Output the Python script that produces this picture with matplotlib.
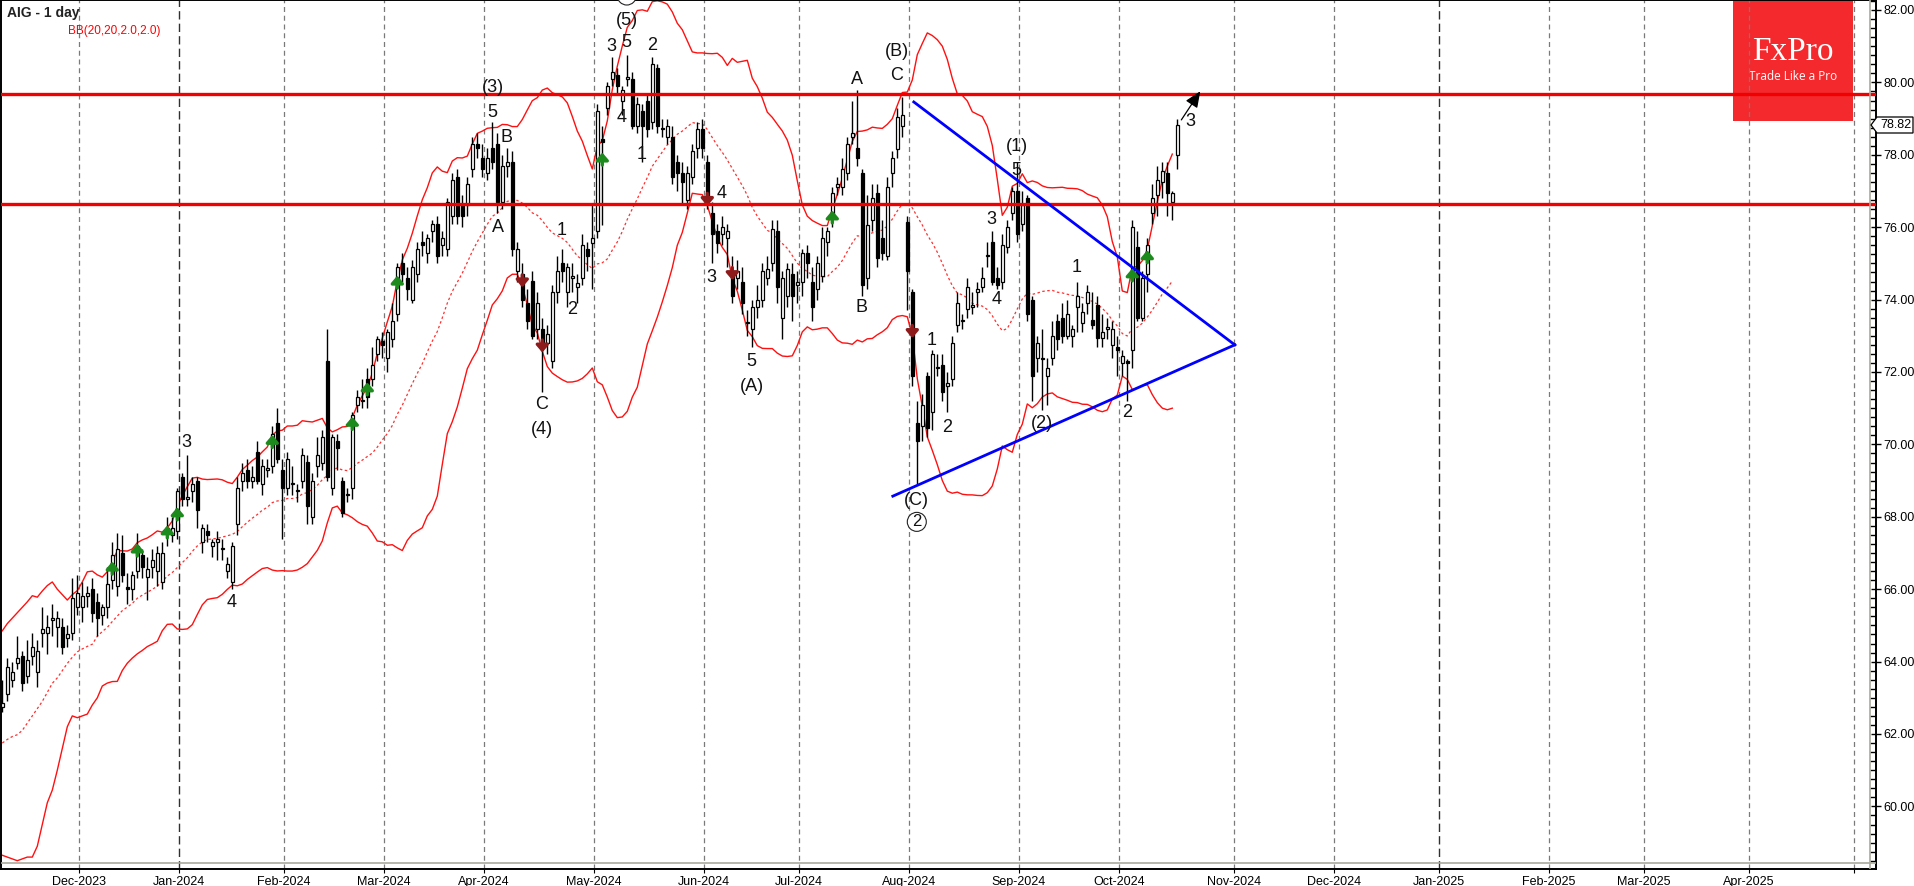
import numpy as np
import pandas as pd
import matplotlib
matplotlib.use("Agg")
import matplotlib.pyplot as plt
from matplotlib.patches import Rectangle, Polygon

plt.rcParams['font.family'] = ['Liberation Sans', 'DejaVu Sans']

# ---------------- data ----------------
start_date = "2023-11-09"
holidays = ["2023-11-23", "2023-12-25", "2024-01-01", "2024-01-15", "2024-02-19",
            "2024-03-29", "2024-05-27", "2024-06-19", "2024-07-04", "2024-09-02",
            "2024-11-28", "2024-12-25", "2025-01-01", "2025-02-17", "2025-04-18"]

opens = [62.75, 63.1, 63.5, 63.95, 64.15, 63.6, 64.15, 63.7, 64.8, 64.8,
         65.15, 64.95, 64.95, 64.65, 64.8, 65.5, 65.5, 65.8, 66.0, 65.65,
         65.3, 65.5, 66.25, 66.1, 67.0, 66.05, 66.0, 66.5, 66.95, 66.35,
         66.6, 66.5, 66.2, 67.55, 67.5, 67.6, 69.1, 68.5, 68.7, 69.0,
         67.3, 67.6, 67.2, 67.3, 67.1, 66.5, 66.2, 67.8, 69.0, 69.3,
         69.0, 69.8, 68.9, 69.3, 69.4, 70.6, 69.3, 68.8, 68.9, 68.7,
         69.0, 69.5, 68.0, 69.4, 69.5, 72.3, 68.8, 70.1, 69.0, 68.6,
         68.8, 71.1, 71.2, 71.8, 71.8, 72.5, 72.85, 72.4, 72.9, 73.6,
         75.0, 74.6, 74.0, 74.7, 75.6, 75.3, 75.9, 76.1, 75.5, 75.4,
         76.3, 77.4, 76.6, 76.6, 77.6, 78.3, 77.9, 77.5, 78.2, 78.3,
         76.7, 77.7, 77.8, 74.8, 74.7, 73.9, 74.5, 73.2, 73.2, 72.8,
         72.3, 74.2, 75.0, 74.2, 74.6, 74.35, 74.6, 75.4, 75.55, 75.9,
         78.45, 79.3, 80.1, 80.2, 79.5, 80.1, 80.1, 78.8, 79.2, 79.5,
         78.9, 80.4, 78.75, 78.5, 78.5, 77.8, 77.5, 76.75, 77.4, 78.2,
         78.7, 77.8, 76.4, 75.9, 75.8, 75.7, 74.8, 74.6, 74.5, 73.35,
         73.2, 73.8, 74.0, 74.6, 75.0, 75.9, 73.5, 74.1, 74.7, 74.4,
         74.5, 75.3, 74.5, 74.3, 74.65, 75.6, 76.3, 77.1, 77.1, 77.5,
         78.5, 78.2, 77.5, 74.6, 76.2, 76.95, 75.7, 75.2, 77.5, 78.15,
         78.8, 76.15, 74.2, 70.6, 70.5, 71.9, 70.9, 72.1, 72.2, 71.6,
         71.8, 73.3, 73.4, 73.75, 73.8, 74.2, 74.35, 75.2, 75.6, 74.6,
         74.5, 75.45, 76.4, 77.0, 76.1, 76.8, 74.0, 72.4, 72.4, 71.9,
         72.4, 73.4, 73.5, 73.0, 73.0, 73.8, 73.35, 73.9, 73.45, 73.85,
         72.95, 73.2, 72.75, 72.7, 72.25, 72.3, 72.6, 75.45, 73.5, 74.7,
         76.4, 76.9, 77.25, 77.5, 76.7, 78.0]

highs = [63.5, 64.1, 64.0, 64.7, 64.3, 64.6, 64.8, 64.6, 65.5, 65.3,
         65.6, 65.4, 65.2, 65.0, 66.3, 66.4, 66.2, 66.1, 66.3, 65.9,
         65.6, 66.6, 67.3, 67.55, 67.5, 66.45, 66.5, 67.55, 67.1, 66.9,
         67.1, 67.2, 67.3, 68.0, 68.0, 68.8, 69.2, 69.7, 69.1, 69.1,
         67.8, 67.8, 67.4, 67.6, 67.4, 66.9, 67.3, 69.1, 69.5, 69.6,
         69.4, 70.1, 69.6, 69.6, 70.5, 71.0, 69.6, 69.8, 69.4, 68.9,
         69.9, 69.7, 69.2, 70.2, 70.4, 73.2, 70.3, 70.3, 69.1, 68.8,
         70.9, 71.5, 71.8, 72.1, 72.7, 73.0, 73.1, 73.2, 73.9, 75.0,
         75.3, 74.9, 75.1, 75.6, 75.9, 75.8, 76.2, 76.3, 75.9, 76.8,
         77.5, 77.6, 76.9, 77.4, 78.5, 78.6, 78.3, 78.2, 78.9, 78.6,
         78.0, 78.2, 78.1, 75.6, 75.0, 74.3, 74.8, 74.2, 73.5, 73.3,
         74.4, 75.2, 75.4, 75.0, 75.0, 74.7, 75.8, 75.6, 76.6, 79.4,
         78.8, 80.0, 80.7, 80.4, 79.9, 80.75, 80.3, 79.6, 79.4, 79.7,
         80.7, 80.5, 79.0, 79.0, 78.8, 78.0, 77.8, 77.7, 78.3, 78.9,
         79.0, 78.0, 76.7, 76.1, 76.3, 76.1, 75.2, 75.1, 74.9, 73.7,
         74.0, 74.4, 75.0, 75.2, 76.2, 76.2, 74.8, 75.0, 75.0, 74.8,
         75.4, 75.5, 74.9, 75.2, 76.0, 76.0, 77.1, 77.4, 77.9, 78.5,
         79.5, 79.8, 77.6, 76.9, 77.2, 77.2, 76.2, 77.4, 78.1, 79.3,
         79.6, 76.3, 74.3, 71.2, 71.4, 72.0, 72.6, 72.5, 72.5, 72.0,
         73.0, 74.2, 73.6, 74.6, 74.2, 74.5, 74.9, 75.6, 75.9, 74.9,
         75.8, 76.2, 77.1, 77.8, 77.0, 76.9, 74.1, 73.0, 73.2, 72.4,
         73.4, 73.6, 73.9, 74.0, 73.3, 74.5, 73.9, 74.4, 74.2, 74.1,
         73.6, 73.5, 73.4, 73.0, 72.6, 72.35, 76.2, 75.9, 74.8, 75.7,
         77.2, 77.7, 77.8, 77.8, 77.0, 79.0]

lows = [62.6, 62.9, 63.3, 63.8, 63.2, 63.4, 63.9, 63.3, 64.4, 64.2,
        64.7, 64.4, 64.2, 64.4, 64.6, 65.3, 65.1, 65.5, 65.1, 64.7,
        65.0, 65.2, 66.0, 65.8, 66.2, 65.6, 65.7, 66.3, 66.3, 65.7,
        66.3, 66.1, 66.0, 67.2, 67.3, 67.4, 68.3, 68.3, 68.4, 67.7,
        67.0, 67.3, 66.9, 66.8, 66.8, 66.3, 66.0, 67.5, 68.7, 68.8,
        68.8, 68.9, 68.6, 69.1, 69.2, 69.5, 67.4, 68.6, 68.6, 68.4,
        68.8, 67.8, 67.8, 69.1, 69.3, 69.0, 68.6, 69.3, 68.0, 68.4,
        68.5, 70.9, 71.0, 71.0, 71.6, 72.3, 72.4, 72.0, 72.7, 73.4,
        74.5, 74.0, 73.9, 74.5, 75.2, 75.0, 75.6, 75.0, 75.2, 75.2,
        76.1, 76.1, 76.0, 76.3, 77.4, 77.9, 77.4, 77.3, 77.6, 76.4,
        76.5, 77.4, 75.2, 74.5, 73.8, 73.2, 72.9, 72.9, 71.45, 72.5,
        72.1, 73.9, 74.5, 73.8, 74.2, 73.9, 74.4, 74.8, 74.3, 75.7,
        76.05, 79.1, 79.9, 79.7, 79.1, 79.9, 78.7, 78.6, 77.8, 78.5,
        78.7, 78.6, 78.5, 78.3, 77.2, 77.0, 76.6, 76.5, 77.2, 77.9,
        77.9, 76.5, 75.0, 75.3, 75.5, 74.9, 73.9, 74.3, 73.6, 73.0,
        72.7, 73.5, 73.8, 74.4, 74.8, 73.9, 72.9, 73.8, 73.4, 73.9,
        74.1, 74.6, 73.4, 74.0, 74.5, 75.2, 76.0, 76.9, 76.9, 77.3,
        78.3, 77.7, 74.1, 74.3, 75.9, 74.9, 75.1, 75.1, 77.1, 77.9,
        78.5, 73.7, 71.6, 68.9, 70.1, 70.2, 70.4, 71.9, 71.2, 70.9,
        71.6, 73.1, 73.2, 73.5, 73.6, 73.8, 74.2, 74.9, 74.4, 74.3,
        74.3, 75.3, 76.2, 75.6, 75.9, 73.4, 71.2, 72.0, 70.95, 71.1,
        72.2, 72.6, 72.8, 72.9, 72.7, 73.1, 73.1, 73.6, 73.2, 72.7,
        72.7, 72.9, 72.4, 71.9, 71.9, 71.2, 72.1, 73.4, 73.4, 74.2,
        76.1, 76.3, 76.8, 76.3, 76.2, 77.6]

closes = [62.85, 63.85, 63.7, 64.1, 63.4, 64.05, 64.4, 64.3, 64.9, 64.95,
          65.2, 65.2, 64.4, 64.75, 65.75, 65.9, 65.8, 65.9, 65.35, 65.2,
          65.5, 66.15, 66.95, 67.1, 66.4, 66.0, 66.4, 67.2, 66.6, 66.55,
          66.8, 67.0, 67.0, 67.7, 67.7, 68.7, 68.5, 68.55, 68.9, 68.2,
          67.7, 67.5, 67.3, 67.4, 67.1, 66.7, 67.2, 68.8, 69.2, 69.0,
          69.1, 69.0, 69.4, 69.3, 70.3, 69.6, 68.8, 69.6, 68.9, 68.7,
          69.7, 68.3, 69.0, 69.7, 70.2, 69.1, 70.2, 69.9, 68.1, 68.6,
          70.8, 71.3, 71.2, 71.3, 72.2, 72.9, 72.75, 73.1, 73.4, 74.9,
          74.7, 74.3, 74.9, 75.4, 75.5, 75.7, 76.1, 75.2, 75.7, 76.7,
          77.3, 76.3, 76.3, 77.2, 78.3, 78.2, 77.6, 77.9, 77.8, 76.7,
          77.7, 77.8, 75.4, 75.4, 74.0, 73.4, 73.0, 73.9, 72.7, 73.05,
          74.2, 74.8, 74.8, 74.9, 74.6, 74.45, 75.5, 75.2, 75.7, 79.2,
          78.35, 79.9, 80.3, 79.9, 79.8, 80.1, 78.8, 79.4, 78.8, 78.7,
          80.5, 78.8, 78.7, 78.8, 77.4, 77.5, 77.25, 77.5, 78.1, 78.7,
          78.2, 76.75, 75.8, 75.55, 76.0, 75.9, 74.1, 74.8, 73.9, 73.35,
          73.8, 74.0, 74.8, 74.85, 75.95, 74.35, 74.6, 74.85, 74.1, 74.5,
          75.3, 75.0, 73.8, 75.0, 75.7, 75.9, 76.95, 77.2, 77.6, 78.3,
          78.6, 77.9, 74.4, 76.05, 76.8, 75.15, 75.3, 77.1, 77.9, 79.05,
          79.1, 74.8, 71.9, 70.1, 71.1, 70.45, 72.5, 72.1, 71.45, 71.7,
          72.8, 73.9, 73.4, 74.35, 73.8, 74.3, 74.6, 75.2, 74.5, 74.4,
          75.5, 76.0, 77.0, 75.8, 76.6, 73.6, 71.9, 72.8, 72.35, 72.1,
          73.0, 72.9, 73.0, 73.6, 73.2, 74.1, 73.65, 74.2, 73.3, 72.95,
          73.1, 73.25, 73.2, 72.6, 72.45, 72.25, 76.0, 73.5, 74.6, 75.5,
          76.8, 77.3, 77.55, 76.95, 76.95, 78.82]

# Bollinger values for the first 19 bars (window not yet full)
bb_up_head = [64.85, 65.05, 65.2, 65.35, 65.5, 65.65, 65.82, 65.78, 65.95, 66.1,
              66.2, 66.0, 65.85, 65.7, 65.85, 65.96, 66.2, 66.48, 66.5]
bb_mid_head = [61.75, 61.85, 61.93, 61.98, 62.1, 62.3, 62.5, 62.7, 62.9, 63.15,
               63.4, 63.55, 63.75, 63.95, 64.12, 64.27, 64.35, 64.42, 64.48]
bb_lo_head = [58.65, 58.6, 58.55, 58.5, 58.55, 58.6, 58.6, 58.9, 59.5, 60.1,
              60.45, 61.0, 61.6, 62.2, 62.5, 62.45, 62.5, 62.55, 62.8]

levels = [79.67, 76.64]
last_price = 78.82

green_idx = [22, 27, 33, 35, 54, 70, 73, 79, 120, 166, 226, 229]
green_px = [66.6, 67.1, 67.6, 68.1, 70.1, 70.6, 71.55, 74.5, 77.9, 76.3, 74.7, 75.2]
red_idx = [104, 108, 141, 146, 182]
red_px = [74.5, 72.7, 76.75, 74.7, 73.1]

# triangle lines: (bar, price) endpoints
tri_upper = [(182.3, 79.46), (246.5, 72.75)]
tri_lower = [(178.1, 68.57), (246.5, 72.75)]
arrow_line = [(235.5, 78.9), (239.9, 79.82)]

wave_labels = [
    (36.9, 70.04, "3"), (45.9, 65.62, "4"),
    (98.1, 79.87, "(3)"), (98.1, 79.18, "5"), (100.9, 78.49, "B"), (99.1, 75.98, "A"),
    (111.9, 75.92, "1"), (113.9, 73.74, "2"), (107.9, 71.09, "C"), (107.9, 70.40, "(4)"),
    (124.9, 81.72, "(5)"), (121.9, 80.98, "3"), (124.9, 81.09, "5"), (129.9, 81.03, "2"),
    (123.9, 79.02, "4"), (127.9, 78.0, "1"),
    (143.9, 76.94, "4"), (141.9, 74.62, "3"), (149.9, 72.28, "5"), (149.9, 71.59, "(A)"),
    (170.9, 80.09, "A"), (178.9, 80.84, "(B)"), (178.9, 80.18, "C"), (171.9, 73.77, "B"),
    (182.9, 68.46, "(C)"),
    (185.9, 72.88, "1"), (188.9, 70.48, "2"), (197.9, 76.2, "3"), (198.9, 73.99, "4"),
    (202.9, 78.22, "(1)"), (202.9, 77.58, "5"), (207.9, 70.59, "(2)"),
    (214.9, 74.9, "1"), (224.9, 70.87, "2"), (237.7, 78.91, "3"),
]
circled_labels = [(182.9, 67.86, "2"), (124.9, 82.40, "1")]

# ---------------- figure ----------------
W, H = 1914, 886
fig = plt.figure(figsize=(W / 100, H / 100), dpi=100)
ax = fig.add_axes([1 / W, (H - 869) / H, 1875 / W, 869 / H])
ax.set_facecolor("white")
ax.set_autoscale_on(False)
XLIM = (-0.26, 374.74)
YLIM = (82.0 - 859 / 36.2, 82.0 + 10 / 36.2)
ax.set_xlim(*XLIM)
ax.set_ylim(*YLIM)

n = len(closes)
o = np.array(opens); h = np.array(highs); l = np.array(lows); c = np.array(closes)
x = np.arange(n)

# calendar -> month tick positions
days = pd.bdate_range(start_date, "2025-06-30")
days = days[~days.isin(pd.to_datetime(holidays))]
pos = pd.Series(np.arange(len(days)), index=days)
firsts = pos.groupby([days.year, days.month]).first()
ticks, labels, is_jan = [], [], []
for (yy, mm), idx in firsts.items():
    if idx == 0:
        continue
    ticks.append(idx + 0.3)
    lab = pd.Timestamp(year=yy, month=mm, day=1).strftime("%b-%Y")
    labels.append(lab if not (yy == 2025 and mm >= 5) else "")
    is_jan.append(mm == 1)
for t, j in zip(ticks, is_jan):
    if j:
        ax.axvline(t, color="#303030", lw=1.0, ls=(0, (6, 3)), zorder=1)
    else:
        ax.axvline(t, color="#7a7a7a", lw=0.9, ls=(0, (4, 3)), zorder=1)

# FxPro logo (under grid and lines)
def fx(px):
    return px / W
def fy(py):
    return 1 - py / H
ax.add_patch(Rectangle((fx(1733), fy(121)), 120 / W, 121 / H, transform=fig.transFigure,
                       facecolor="#F4292D", edgecolor="none", zorder=0.5, clip_on=False))
ax.text(fx(1793), fy(52), "FxPro", transform=fig.transFigure, ha="center", va="center",
        fontsize=24, color="white", family=["Liberation Serif", "DejaVu Serif"], zorder=0.6)
ax.text(fx(1793), fy(76), "Trade Like a Pro", transform=fig.transFigure, ha="center",
        va="center", fontsize=8.5, color="white", family=["Open Sans", "DejaVu Sans"], zorder=0.6)

# Bollinger bands
cs = pd.Series(c)
mid = cs.rolling(20).mean().to_numpy()
sd = cs.rolling(20).std(ddof=0).to_numpy()
up = mid + 2 * sd
lo = mid - 2 * sd
up[:19] = bb_up_head; mid[:19] = bb_mid_head; lo[:19] = bb_lo_head
m = n - 1
ax.plot(x[:m], up[:m], color="#FF1010", lw=1.0, zorder=2)
ax.plot(x[:m], lo[:m], color="#FF1010", lw=1.0, zorder=2)
ax.plot(x[:m], mid[:m], color="#FF3030", lw=0.9, ls=(0, (2, 2)), zorder=2)

# candles
ax.vlines(x, l, h, color="black", lw=1.0, zorder=3)
bull = c >= o
body_lo = np.minimum(o, c)
body_h = np.maximum(np.abs(c - o), 0.04)
ax.bar(x[bull], body_h[bull], bottom=body_lo[bull], width=0.62, facecolor="white",
       edgecolor="black", linewidth=0.9, zorder=3.5)
ax.bar(x[~bull], body_h[~bull], bottom=body_lo[~bull], width=0.62, facecolor="black",
       edgecolor="black", linewidth=0.9, zorder=3.5)

# signal arrows
for k, p in zip(green_idx, green_px):
    ax.annotate("", xy=(k, p + 0.24), xytext=(k, p - 0.26),
                arrowprops=dict(arrowstyle="-|>,head_width=0.3,head_length=0.35",
                                color="#1D8A1D", lw=2.4, mutation_scale=12), zorder=4)
for k, p in zip(red_idx, red_px):
    ax.annotate("", xy=(k, p - 0.24), xytext=(k, p + 0.26),
                arrowprops=dict(arrowstyle="-|>,head_width=0.3,head_length=0.35",
                                color="#8E1B1B", lw=2.4, mutation_scale=12), zorder=4)

# horizontal levels
for lv in levels:
    ax.axhline(lv, color="#F00000", lw=2.4, zorder=4)

# triangle
ax.plot([p[0] for p in tri_upper], [p[1] for p in tri_upper], color="#0000FF", lw=2.0, zorder=4)
ax.plot([p[0] for p in tri_lower], [p[1] for p in tri_lower], color="#0000FF", lw=2.0, zorder=4)
ax.annotate("", xy=arrow_line[1], xytext=arrow_line[0],
            arrowprops=dict(arrowstyle="-|>,head_width=0.3,head_length=0.7",
                            color="black", lw=0.9, mutation_scale=14), zorder=5)

# wave labels
for k, p, t in wave_labels:
    ax.text(k, p, t, ha="center", va="center", fontsize=13, color="#111111", zorder=5)
for k, p, t in circled_labels:
    ax.text(k, p, t, ha="center", va="center", fontsize=12, color="#111111", zorder=5,
            clip_on=True,
            bbox=dict(boxstyle="circle,pad=0.12", fc="white", ec="#222222", lw=0.8))

# inner gray frame
ax.axvline((1870 - 2.3) / 5, color="#A9A99C", lw=1.2, zorder=6)
ax.axhline(82.0 - 853 / 36.2, color="#A9A99C", lw=1.2, zorder=6)

# axes styling
for s in ax.spines.values():
    s.set_color("black"); s.set_linewidth(1.4)
ax.yaxis.tick_right()
ax.set_yticks(np.arange(60, 83, 2))
ax.set_yticks(np.arange(58.5, 82.3, 0.25), minor=True)
ax.yaxis.set_major_formatter(matplotlib.ticker.FormatStrFormatter("%.2f"))
ax.tick_params(axis="y", which="major", direction="inout", length=7, width=1,
               labelsize=9, pad=2, colors="black")
ax.tick_params(axis="y", which="minor", direction="in", length=4, width=1)
ax.set_xticks(ticks)
ax.set_xticklabels(labels)
ax.tick_params(axis="x", which="major", direction="out", length=3, labelsize=9, pad=2)

ax.set_xlim(*XLIM)
ax.set_ylim(*YLIM)

# title texts
fig.text(fx(7), fy(13), "AIG - 1 day", ha="left", va="center", fontsize=10,
         fontweight="bold", color="#222222")
fig.text(fx(68), fy(31), "BB(20,20,2.0,2.0)", ha="left", va="center", fontsize=8.5,
         color="#FF0000")

# last price tag
pts = [(1871, 125), (1877, 117), (1913, 117), (1913, 133), (1877, 133)]
fig.patches.append(Polygon([(fx(a), fy(b)) for a, b in pts], closed=True,
                           transform=fig.transFigure, facecolor="white",
                           edgecolor="black", lw=0.9, zorder=10))
fig.text(fx(1880), fy(125), f"{last_price:.2f}", ha="left", va="center", fontsize=9,
         color="black", zorder=11)

fig.savefig("out.png", dpi=100)
